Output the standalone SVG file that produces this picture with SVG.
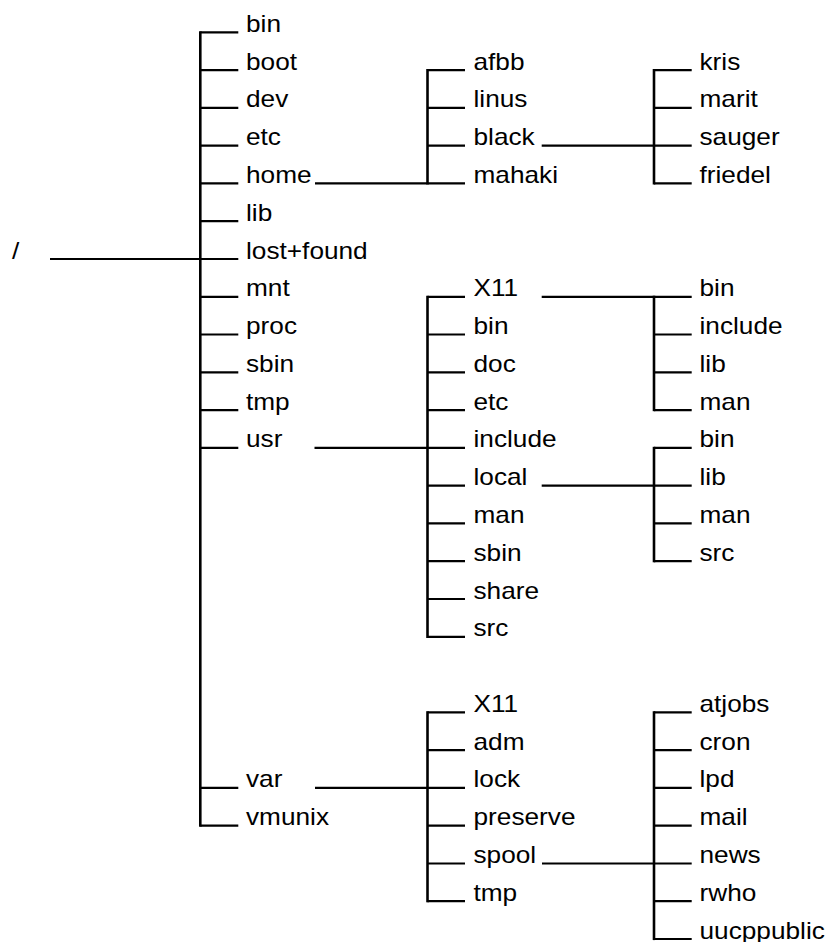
<svg xmlns="http://www.w3.org/2000/svg" width="829" height="942" viewBox="0 0 829 942">
  <style>
    .wire { fill: none; stroke: #000; stroke-width: 2.2; stroke-linejoin: miter; stroke-linecap: butt; }
    .trunk { fill: none; stroke: #000; stroke-width: 2.6; }
    text { font-family: "Liberation Sans", Arial, Helvetica, sans-serif; font-size: 23px; fill: #000; transform: scaleX(1.14); }
  </style>
  <rect width="829" height="942" fill="#fff"/>

  <!-- connectors: rows are 37.78px apart starting at y=32.3 -->
  <g id="connectors">
    <!-- root -->
    <path class="wire" d="M50 259 H200.3"/>
    <path class="trunk" d="M200.3 31.2 V826.8"/>
    <path class="wire" d="M200.3 32.3 H238.3 M200.3 70.1 H238.3 M200.3 107.9 H238.3 M200.3 145.6 H238.3 M200.3 183.4 H238.3 M200.3 221.2 H238.3 M200.3 259 H238.3 M200.3 296.8 H238.3 M200.3 334.5 H238.3 M200.3 372.3 H238.3 M200.3 410.1 H238.3 M200.3 447.9 H238.3 M200.3 787.9 H238.3 M200.3 825.7 H238.3"/>

    <!-- home -->
    <path class="wire" d="M315 183.4 H427.5"/>
    <path class="trunk" d="M427.5 69 V184.5"/>
    <path class="wire" d="M427.5 70.1 H465 M427.5 107.9 H465 M427.5 145.6 H465 M427.5 183.4 H465"/>

    <!-- home/black -->
    <path class="wire" d="M541.7 145.6 H654"/>
    <path class="trunk" d="M654 69 V184.5"/>
    <path class="wire" d="M654 70.1 H691.7 M654 107.9 H691.7 M654 145.6 H691.7 M654 183.4 H691.7"/>

    <!-- usr -->
    <path class="wire" d="M314.5 447.9 H427.5"/>
    <path class="trunk" d="M427.5 295.7 V637.9"/>
    <path class="wire" d="M427.5 296.8 H465 M427.5 334.5 H465 M427.5 372.3 H465 M427.5 410.1 H465 M427.5 447.9 H465 M427.5 485.7 H465 M427.5 523.4 H465 M427.5 561.2 H465 M427.5 599 H465 M427.5 636.8 H465"/>

    <!-- usr/X11 -->
    <path class="wire" d="M541.7 296.8 H654"/>
    <path class="trunk" d="M654 295.7 V411.2"/>
    <path class="wire" d="M654 296.8 H691.7 M654 334.5 H691.7 M654 372.3 H691.7 M654 410.1 H691.7"/>

    <!-- usr/local -->
    <path class="wire" d="M541.7 485.7 H654"/>
    <path class="trunk" d="M654 446.8 V562.3"/>
    <path class="wire" d="M654 447.9 H691.7 M654 485.7 H691.7 M654 523.4 H691.7 M654 561.2 H691.7"/>

    <!-- var -->
    <path class="wire" d="M315 787.9 H427.5"/>
    <path class="trunk" d="M427.5 711.2 V902.3"/>
    <path class="wire" d="M427.5 712.3 H465 M427.5 750.1 H465 M427.5 787.9 H465 M427.5 825.7 H465 M427.5 863.5 H465 M427.5 901.2 H465"/>

    <!-- var/spool -->
    <path class="wire" d="M542 863.5 H654"/>
    <path class="trunk" d="M654 711.2 V940.1"/>
    <path class="wire" d="M654 712.3 H691.7 M654 750.1 H691.7 M654 787.9 H691.7 M654 825.7 H691.7 M654 863.5 H691.7 M654 901.2 H691.7 M654 939 H691.7"/>
  </g>

  <!-- root -->
  <g id="root" transform="translate(12,258.5)"><text>/</text></g>

  <!-- first level -->
  <g id="bin" transform="translate(246,31.8)"><text>bin</text></g>
  <g id="boot" transform="translate(246,69.6)"><text>boot</text></g>
  <g id="dev" transform="translate(246,107.4)"><text>dev</text></g>
  <g id="etc" transform="translate(246,145.1)"><text>etc</text></g>
  <g id="home" transform="translate(246,182.9)"><text>home</text></g>
  <g id="lib" transform="translate(246,220.7)"><text>lib</text></g>
  <g id="lost-found" transform="translate(246,258.5)"><text>lost+found</text></g>
  <g id="mnt" transform="translate(246,296.3)"><text>mnt</text></g>
  <g id="proc" transform="translate(246,334)"><text>proc</text></g>
  <g id="sbin" transform="translate(246,371.8)"><text>sbin</text></g>
  <g id="tmp" transform="translate(246,409.6)"><text>tmp</text></g>
  <g id="usr" transform="translate(246,447.4)"><text>usr</text></g>
  <g id="var" transform="translate(246,787.4)"><text>var</text></g>
  <g id="vmunix" transform="translate(246,825.2)"><text>vmunix</text></g>

  <!-- /home -->
  <g id="home-afbb" transform="translate(473.5,69.6)"><text>afbb</text></g>
  <g id="home-linus" transform="translate(473.5,107.4)"><text>linus</text></g>
  <g id="home-black" transform="translate(473.5,145.1)"><text>black</text></g>
  <g id="home-mahaki" transform="translate(473.5,182.9)"><text>mahaki</text></g>

  <!-- /home/black -->
  <g id="black-kris" transform="translate(699.5,69.6)"><text>kris</text></g>
  <g id="black-marit" transform="translate(699.5,107.4)"><text>marit</text></g>
  <g id="black-sauger" transform="translate(699.5,145.1)"><text>sauger</text></g>
  <g id="black-friedel" transform="translate(699.5,182.9)"><text>friedel</text></g>

  <!-- /usr -->
  <g id="usr-X11" transform="translate(473.5,296.3)"><text>X11</text></g>
  <g id="usr-bin" transform="translate(473.5,334)"><text>bin</text></g>
  <g id="usr-doc" transform="translate(473.5,371.8)"><text>doc</text></g>
  <g id="usr-etc" transform="translate(473.5,409.6)"><text>etc</text></g>
  <g id="usr-include" transform="translate(473.5,447.4)"><text>include</text></g>
  <g id="usr-local" transform="translate(473.5,485.2)"><text>local</text></g>
  <g id="usr-man" transform="translate(473.5,522.9)"><text>man</text></g>
  <g id="usr-sbin" transform="translate(473.5,560.7)"><text>sbin</text></g>
  <g id="usr-share" transform="translate(473.5,598.5)"><text>share</text></g>
  <g id="usr-src" transform="translate(473.5,636.3)"><text>src</text></g>

  <!-- /usr/X11 -->
  <g id="X11-bin" transform="translate(699.5,296.3)"><text>bin</text></g>
  <g id="X11-include" transform="translate(699.5,334)"><text>include</text></g>
  <g id="X11-lib" transform="translate(699.5,371.8)"><text>lib</text></g>
  <g id="X11-man" transform="translate(699.5,409.6)"><text>man</text></g>

  <!-- /usr/local -->
  <g id="local-bin" transform="translate(699.5,447.4)"><text>bin</text></g>
  <g id="local-lib" transform="translate(699.5,485.2)"><text>lib</text></g>
  <g id="local-man" transform="translate(699.5,522.9)"><text>man</text></g>
  <g id="local-src" transform="translate(699.5,560.7)"><text>src</text></g>

  <!-- /var -->
  <g id="var-X11" transform="translate(473.5,711.8)"><text>X11</text></g>
  <g id="var-adm" transform="translate(473.5,749.6)"><text>adm</text></g>
  <g id="var-lock" transform="translate(473.5,787.4)"><text>lock</text></g>
  <g id="var-preserve" transform="translate(473.5,825.2)"><text>preserve</text></g>
  <g id="var-spool" transform="translate(473.5,863)"><text>spool</text></g>
  <g id="var-tmp" transform="translate(473.5,900.7)"><text>tmp</text></g>

  <!-- /var/spool -->
  <g id="spool-atjobs" transform="translate(699.5,711.8)"><text>atjobs</text></g>
  <g id="spool-cron" transform="translate(699.5,749.6)"><text>cron</text></g>
  <g id="spool-lpd" transform="translate(699.5,787.4)"><text>lpd</text></g>
  <g id="spool-mail" transform="translate(699.5,825.2)"><text>mail</text></g>
  <g id="spool-news" transform="translate(699.5,863)"><text>news</text></g>
  <g id="spool-rwho" transform="translate(699.5,900.7)"><text>rwho</text></g>
  <g id="spool-uucppublic" transform="translate(699.5,938.5)"><text>uucppublic</text></g>
</svg>
